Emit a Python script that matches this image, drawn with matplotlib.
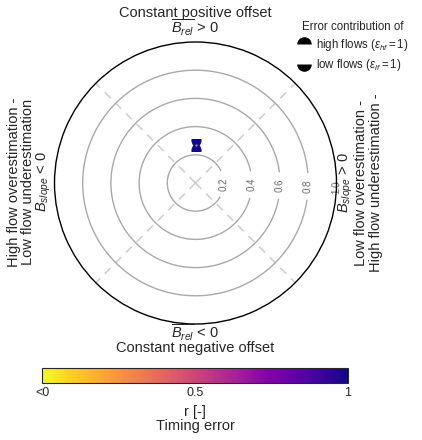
import numpy as np
import matplotlib
matplotlib.use("Agg")
import matplotlib.pyplot as plt
from matplotlib.path import Path
from matplotlib.markers import MarkerStyle
from matplotlib.lines import Line2D

# ---------------- data ----------------
de_values = [0.27]            # diagnostic efficiency (radial distance)
phi_values = [np.pi / 2]      # direction of the error (angle)
r_values = [0.99]             # temporal correlation (colour)
contour_levels = [0.2, 0.4, 0.6, 0.8, 1.0]
ring_max = 1.0                # contour data only below this value
r_axis_max = 1.0
cbar_ticks = [0, 0.5, 1]
cbar_ticklabels = ["<0", "0.5", "1"]
legend_labels = [r"high flows ($\epsilon_{hf} = 1$)", r"low flows ($\epsilon_{lf} = 1$)"]

plt.rcParams['font.family'] = ['Liberation Sans', 'DejaVu Sans']
plt.rcParams['mathtext.fontset'] = 'custom'
plt.rcParams['mathtext.rm'] = 'Liberation Sans'
plt.rcParams['mathtext.it'] = 'Liberation Sans:italic'
plt.rcParams['mathtext.bf'] = 'Liberation Sans:bold'
TXT = '#262626'

W, H = 422, 440
fig = plt.figure(figsize=(W / 100, H / 100), dpi=100)
cx, cy, R = 195.5, 183, 141
ax = fig.add_axes([(cx - R) / W, (H - cy - R) / H, 2 * R / W, 2 * R / H], projection='polar')

# contour rings with inline labels
lab_theta = -0.03
px_per_unit = R / r_axis_max
for lev in contour_levels:
    rpx = lev * px_per_unit
    if lev < ring_max:
        half = 14.0 / rpx
        th = np.linspace(lab_theta + half, lab_theta + 2 * np.pi - half, 400)
        ax.plot(th, np.full_like(th, lev), color='darkgray', lw=1.0, zorder=2)
    ax.text(lab_theta, lev, f"{lev:.1f}", rotation=90 + np.degrees(lab_theta),
            rotation_mode='anchor', ha='center', va='center', fontsize=7,
            color='dimgrey', zorder=3, clip_on=False)

# hourglass marker shape
a, b, c = 1.0, 1.5, 1.2
ys1 = np.linspace(c, 0, 25)
x1 = a * np.sqrt(np.clip(1 - ((c - ys1) / b) ** 2, 0, None))
ys2 = np.linspace(0, -c, 25)
x2 = a * np.sqrt(np.clip(1 - ((ys2 + c) / b) ** 2, 0, None))
right = np.column_stack([np.r_[x1, x2], np.r_[ys1, ys2]])
left = right[::-1] * np.array([-1, 1])
verts = np.vstack([right, left, right[:1]])
hourglass = Path(verts, closed=True)

sc = ax.scatter(phi_values, de_values, c=r_values, cmap='plasma_r', vmin=0, vmax=1,
                marker=MarkerStyle(hourglass), s=80, linewidths=0, zorder=5)
ax.scatter(phi_values, de_values, s=2.5, color='#9a9ad0', linewidths=0, zorder=6)

ax.set_ylim(0, r_axis_max)
ax.set_yticks([])
ax.set_thetagrids([45, 135, 225, 315], labels=[''] * 4)
ax.xaxis.grid(True, color='#d0d0d0', ls=(0, (5, 4)), lw=1.2)
ax.tick_params(axis='x', length=0, pad=0)
ax.spines['polar'].set_color('black')
ax.spines['polar'].set_linewidth(1.0)
ax.spines['polar'].set_zorder(4)

# annotations around the circle
fs = 10.5
fig.text(195 / W, 1 - 16.5 / H, "Constant positive offset", ha='center', va='baseline', fontsize=fs, color=TXT)
fig.text(195 / W, 1 - 33 / H, r"$\overline{B_{rel}}$ > 0", ha='center', va='baseline', fontsize=fs, color=TXT)
fig.text(195 / W, 1 - 338 / H, r"$\overline{B_{rel}}$ < 0", ha='center', va='baseline', fontsize=fs, color=TXT)
fig.text(195 / W, 1 - 352 / H, "Constant negative offset", ha='center', va='baseline', fontsize=fs, color=TXT)

fig.text(14 / W, 1 - 182 / H, "High flow overestimation -", rotation=90, ha='center', va='center', fontsize=fs, color=TXT)
fig.text(28.5 / W, 1 - 182 / H, "Low flow underestimation", rotation=90, ha='center', va='center', fontsize=fs, color=TXT)
fig.text(43.5 / W, 1 - 182 / H, r"$B_{slope}$ < 0", rotation=90, ha='center', va='center', fontsize=fs, color=TXT)

fig.text(346 / W, 1 - 183 / H, r"$B_{slope}$ > 0", rotation=90, ha='center', va='center', fontsize=fs, color=TXT)
fig.text(361 / W, 1 - 183 / H, "Low flow overestimation -", rotation=90, ha='center', va='center', fontsize=fs, color=TXT)
fig.text(376 / W, 1 - 183 / H, "High flow underestimation -", rotation=90, ha='center', va='center', fontsize=fs, color=TXT)

# legend
handles = [
    Line2D([], [], marker=MarkerStyle('o', fillstyle='top'), color='black', ls='',
           ms=10.5, mew=0, markerfacecoloralt='none'),
    Line2D([], [], marker=MarkerStyle('o', fillstyle='bottom'), color='black', ls='',
           ms=10.5, mew=0, markerfacecoloralt='none'),
]
leg = fig.legend(handles, legend_labels, title="Error contribution of", loc='upper left',
                 bbox_to_anchor=(297 / W, 1 - 21 / H), frameon=False, fontsize=8.3,
                 title_fontsize=8.3, handlelength=1.2, handletextpad=0.45,
                 labelspacing=0.35, borderpad=0, borderaxespad=0)
for t in leg.get_texts():
    t.set_color(TXT)
leg.get_title().set_color(TXT)

# colorbar
cax = fig.add_axes([42 / W, 1 - 383 / H, 306 / W, 15 / H])
cb = fig.colorbar(sc, cax=cax, orientation='horizontal', ticks=cbar_ticks)
cb.set_ticklabels(cbar_ticklabels)
cb.ax.tick_params(length=0, labelsize=9, pad=3, colors=TXT)
cb.set_label("r [-]\nTiming error", fontsize=fs, color=TXT, labelpad=4, linespacing=1.05)
cb.outline.set_linewidth(0.8)
cb.outline.set_edgecolor(TXT)

fig.savefig("out.png", dpi=100)
